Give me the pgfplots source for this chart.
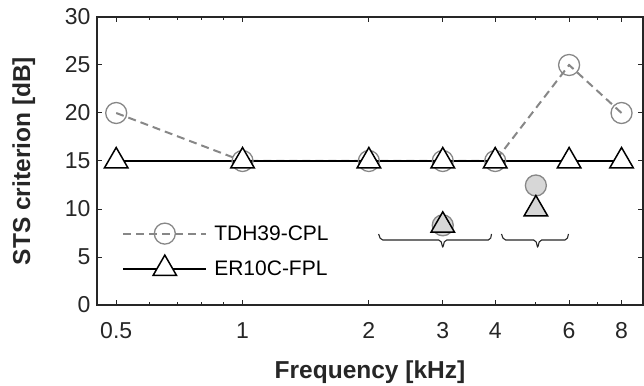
\documentclass[border=0pt]{standalone}
\usepackage{pgfplots}
\pgfplotsset{compat=1.18}
\usepackage{fontspec}
\setmainfont{Liberation Sans}
\definecolor{lgray}{RGB}{135,135,135}
\definecolor{fgray}{RGB}{215,215,215}
\definecolor{axc}{RGB}{38,38,38}
\begin{document}
\begin{tikzpicture}
\useasboundingbox (-97pt,-80pt) rectangle (547pt,305pt);
\begin{axis}[
 scale only axis, width=546pt, height=288pt,
 xmode=log, xmin=0.45, xmax=9, ymin=0, ymax=30,
 xtick={0.5,1,2,3,4,6,8}, xticklabels={0.5,1,2,3,4,6,8},
 minor xtick={0.6,0.7,0.8,0.9,5,7},
 ytick={0,5,10,15,20,25,30},
 tick align=inside, major tick length=5pt, minor tick length=3pt,
 axis line style={axc, line width=1.2pt}, tick style={axc, line width=1pt},
 ticklabel style={font=\fontsize{23}{26}\selectfont, text=axc},
 /pgf/number format/assume math mode=true,
 xticklabel style={yshift=-14pt},
 yticklabel style={xshift=-3pt},
 xlabel={Frequency [kHz]}, ylabel={STS criterion [dB]},
 label style={font=\bfseries\fontsize{24.5}{28}\selectfont, text=axc},
 xlabel style={at={(axis description cs:0.5,-0.233)}, anchor=center},
 ylabel style={at={(axis description cs:-0.134,0.5)}, anchor=center},
 legend style={draw=none, fill=none, at={(axis description cs:0.046,0.285)}, anchor=north west,
   font=\fontsize{21}{24}\selectfont, row sep=11pt, inner sep=0pt,
   /tikz/every odd column/.style={column sep=5pt}},
 legend cell align=left,
 legend image code/.code={\draw[mark repeat=2,mark phase=2] plot coordinates {(0pt,0pt) (41.5pt,0pt) (83pt,0pt)};},
]
\addplot[lgray, line width=2pt, dash pattern=on 8pt off 5pt, mark=o, mark size=10.5pt,
  mark options={solid, fill=white, line width=1.3pt}]
  coordinates {(0.5,20) (1,15) (2,15) (3,15) (4,15) (6,25) (8,20)};
\addlegendentry{TDH39-CPL}
\addplot[black, line width=1.8pt, mark=triangle*, mark size=13.5pt,
  mark options={fill=white, line width=1.5pt}]
  coordinates {(0.5,15) (1,15) (2,15) (3,15) (4,15) (6,15) (8,15)};
\addlegendentry{ER10C-FPL}
\addplot[forget plot, only marks, mark=*, mark size=10.5pt,
  mark options={draw=lgray, fill=fgray, line width=1.3pt}]
  coordinates {(3,8.3) (5,12.45)};
\addplot[forget plot, only marks, mark=triangle*, mark size=13.5pt,
  mark options={draw=black, fill=fgray, line width=1.5pt}]
  coordinates {(3,8.3) (5,10)};
\draw[axc, line width=1.1pt, rounded corners=2pt]
  (axis cs:2.11,7.4) -- (axis cs:2.135,6.77) -- (axis cs:2.967,6.77)
  -- (axis cs:3,5.94) -- (axis cs:3.033,6.77) -- (axis cs:3.895,6.77) -- (axis cs:3.92,7.4);
\draw[axc, line width=1.1pt, rounded corners=2pt]
  (axis cs:4.14,7.4) -- (axis cs:4.19,6.77) -- (axis cs:4.995,6.77)
  -- (axis cs:5.05,5.94) -- (axis cs:5.105,6.77) -- (axis cs:5.93,6.77) -- (axis cs:5.98,7.4);
\end{axis}
\end{tikzpicture}
\end{document}
